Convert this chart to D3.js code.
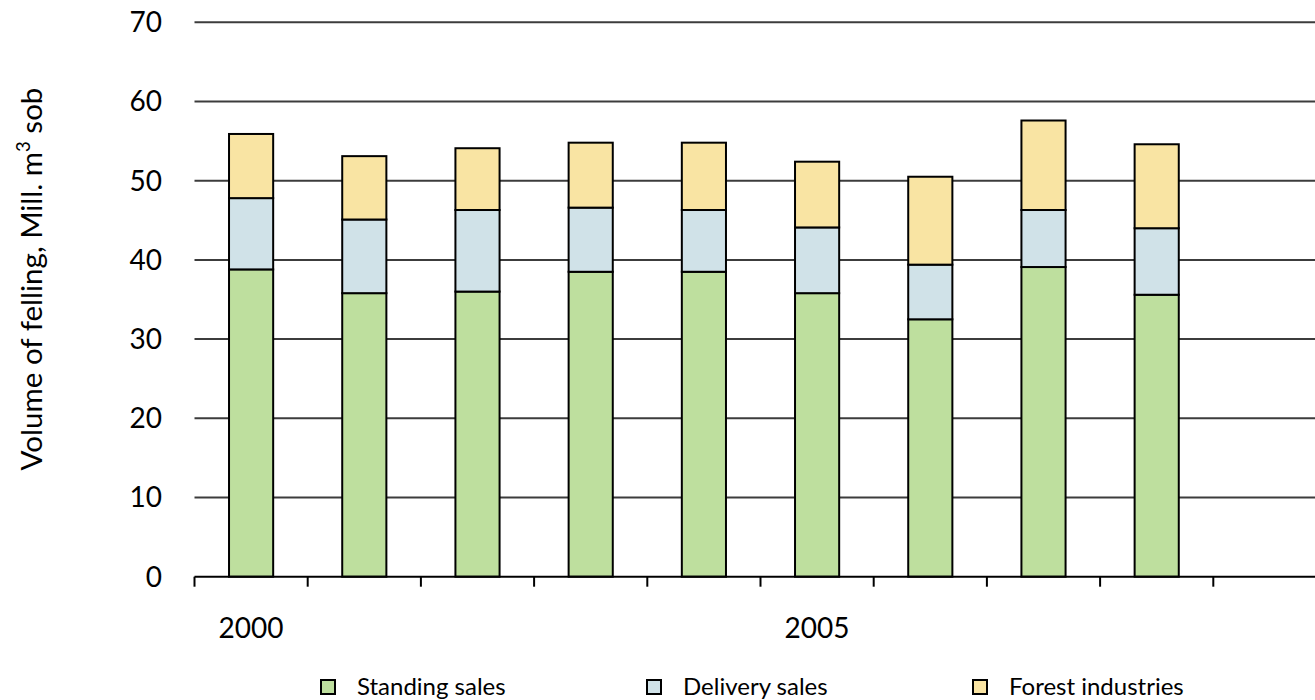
<!DOCTYPE html>
<html>
<head>
<meta charset="utf-8">
<script src="https://cdn.jsdelivr.net/npm/d3@7/dist/d3.min.js"></script>
<style>
  html, body { margin: 0; padding: 0; background: #fff; }
  svg { display: block; }
  text { font-family: Lato, "Open Sans", sans-serif; fill: #000; }
</style>
</head>
<body>
<svg id="chart" width="1315" height="700"></svg>
<script>
// ---- data ----
const years = [2000, 2001, 2002, 2003, 2004, 2005, 2006, 2007, 2008, 2009];
const standingSales = [38.8, 35.8, 36.0, 38.5, 38.5, 35.8, 32.5, 39.1, 35.6, null];
const deliverySales = [9.0, 9.3, 10.3, 8.1, 7.8, 8.3, 6.9, 7.2, 8.4, null];
const forestIndustries = [8.1, 8.0, 7.8, 8.2, 8.5, 8.3, 11.1, 11.3, 10.6, null];
const seriesNames = ["Standing sales", "Delivery sales", "Forest industries"];
const yTicks = [0, 10, 20, 30, 40, 50, 60, 70];
const xTickLabels = { 2000: "2000", 2005: "2005" };
const yTitle = "Volume of felling, Mill. m";

// ---- layout ----
const colors = ["#bedf9e", "#d0e2e8", "#f9e4a3"];
const svg = d3.select("#chart");
const W = 1315;
const left = 194.5, step = 113.2;
const x = d3.scaleBand().domain(years).range([left, left + step * years.length])
  .paddingInner(0.61).paddingOuter(0.305);
const y = d3.scaleLinear().domain([0, 70]).range([576.7, 22.3]);

// gridlines
svg.append("g").selectAll("line").data(yTicks.filter(d => d > 0)).join("line")
  .attr("x1", left).attr("x2", W)
  .attr("y1", d => y(d)).attr("y2", d => y(d))
  .attr("stroke", "#3c3c3c").attr("stroke-width", 2);

// y tick labels
svg.append("g").selectAll("text").data(yTicks).join("text")
  .attr("x", 162).attr("y", d => y(d)).attr("dy", "0.35em")
  .attr("text-anchor", "end").attr("font-size", 28)
  .text(d => d);

// stacked bars
const table = years.map((yr, i) => ({ year: yr, s0: standingSales[i], s1: deliverySales[i], s2: forestIndustries[i] }));
const stack = d3.stack().keys(["s0", "s1", "s2"]).value((d, k) => d[k] == null ? 0 : d[k]);
const stacked = stack(table);
stacked.forEach((layer, li) => {
  svg.append("g").selectAll("rect").data(layer.filter(d => d.data.s0 != null)).join("rect")
    .attr("x", d => x(d.data.year))
    .attr("width", x.bandwidth())
    .attr("y", d => y(d[1]))
    .attr("height", d => y(d[0]) - y(d[1]))
    .attr("fill", colors[li])
    .attr("stroke", "#000").attr("stroke-width", 2);
});

// x axis line + ticks
const y0 = y(0);
svg.append("line").attr("x1", left).attr("x2", W).attr("y1", y0).attr("y2", y0)
  .attr("stroke", "#000").attr("stroke-width", 2);
const bounds = years.map(yr => x(yr) - x.step() * x.paddingInner() / 2);
svg.append("g").selectAll("line").data(bounds).join("line")
  .attr("x1", d => d).attr("x2", d => d).attr("y1", y0).attr("y2", y0 + 10)
  .attr("stroke", "#000").attr("stroke-width", 2);

// x labels
svg.append("g").selectAll("text").data(years.filter(yr => xTickLabels[yr])).join("text")
  .attr("x", d => x(d) + x.bandwidth() / 2).attr("y", 638)
  .attr("text-anchor", "middle").attr("font-size", 28)
  .text(d => xTickLabels[d]);

// y title
const t = svg.append("text")
  .attr("transform", "translate(42,279) rotate(-90)")
  .attr("text-anchor", "middle").attr("font-size", 29.5);
t.append("tspan").text(yTitle);
t.append("tspan").attr("font-size", 18.5).attr("dy", -12).text("3");
t.append("tspan").attr("dy", 12).text(" sob");

// legend
const legendStart = 321, legendStep = 326;
const lg = svg.append("g").selectAll("g").data(seriesNames).join("g")
  .attr("transform", (d, i) => `translate(${legendStart + i * legendStep},680)`);
lg.append("rect").attr("width", 14).attr("height", 14)
  .attr("fill", (d, i) => colors[i]).attr("stroke", "#000").attr("stroke-width", 2);
lg.append("text").attr("x", 36).attr("y", 15).attr("font-size", 24).text(d => d);
</script>
</body>
</html>
